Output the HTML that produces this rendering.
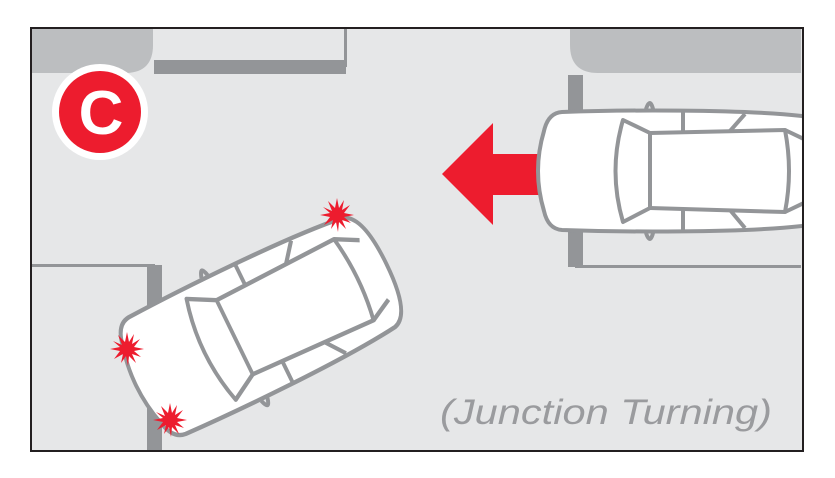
<!DOCTYPE html>
<html><head><style>body{margin:0;background:#fff}svg{display:block}</style></head><body>
<svg width="835" height="478" viewBox="0 0 835 478" xmlns="http://www.w3.org/2000/svg">
<defs>
<g id="car" stroke="#939598" stroke-width="4" fill="#fff" stroke-linejoin="round">
<path d="M106,-62 q4,-12 7,0 M106,62 q4,12 7,0" fill="none"/>
<path d="M22,-59 C80,-61 200,-62 262,-55 Q282,-50 282,0 Q282,50 262,55 C200,62 80,61 22,59 Q8,58 4,40 Q-2,20 -2,0 Q-2,-20 4,-40 Q8,-58 22,-59 Z"/>
<path d="M83,-51 L110,-38 L110,37 L83,51 Q68,0 83,-51 Z"/>
<path d="M110,-38 L245,-41 Q253,0 245,41 L110,37" fill="none"/>
<path d="M143,-59 L143,-39 M143,59 L143,38 M190,-40 L205,-57 M190,39 L205,57 M245,-41 L268,-30 M245,41 L268,30" fill="none"/>
</g>
<polygon id="sp" fill="#ed1c2e" points="0,-17 2,-7 7,-15 5,-5 13,-10 7,-2 17,0 7,2 14,8 5,5 9,14 2,7 1,17 -1,7 -6,14 -4,5 -13,10 -7,2 -17,0 -7,-2 -14,-8 -5,-4 -9,-14 -2,-7"/>
</defs>
<rect x="31" y="28" width="772" height="423" fill="#e6e7e8" stroke="#231f20" stroke-width="2"/>
<path d="M32,29 H153 V45 Q153,73 125,73 H32 Z" fill="#bcbec0"/>
<path d="M801,29 H570 V45 Q570,73 598,73 H801 Z" fill="#bcbec0"/>
<rect x="154" y="60" width="192" height="14" fill="#939598"/>
<rect x="344" y="29" width="3" height="38" fill="#939598"/>
<rect x="32" y="264" width="123" height="3" fill="#939598"/>
<rect x="147" y="265" width="15" height="185" fill="#939598"/>
<rect x="568" y="75" width="15" height="192" fill="#939598"/>
<rect x="575" y="265" width="226" height="3" fill="#939598"/>
<polygon points="442,174 493,123 493,154 548,154 548,195 493,195 493,225" fill="#ed1c2e"/>
<svg x="31" y="28" width="771" height="423" overflow="hidden"><g transform="translate(509,143)"><use href="#car"/></g></svg>
<g transform="translate(138,385) rotate(-26) scale(0.98,1.1)" stroke-width="3.8"><use href="#car"/></g>
<use href="#sp" x="337" y="215"/>
<use href="#sp" x="127" y="349"/>
<use href="#sp" x="170" y="420"/>
<circle cx="100" cy="112" r="48" fill="#fff"/>
<circle cx="100" cy="112" r="41" fill="#ed1c2e"/>
<text x="101" y="134" text-anchor="middle" font-family="Liberation Sans, sans-serif" font-weight="bold" font-size="62" fill="#fff">C</text>
<text x="440" y="424" font-family="Liberation Sans, sans-serif" font-style="italic" font-size="35" fill="#9a9b9e" textLength="332" lengthAdjust="spacingAndGlyphs">(Junction Turning)</text>
</svg>
</body></html>
